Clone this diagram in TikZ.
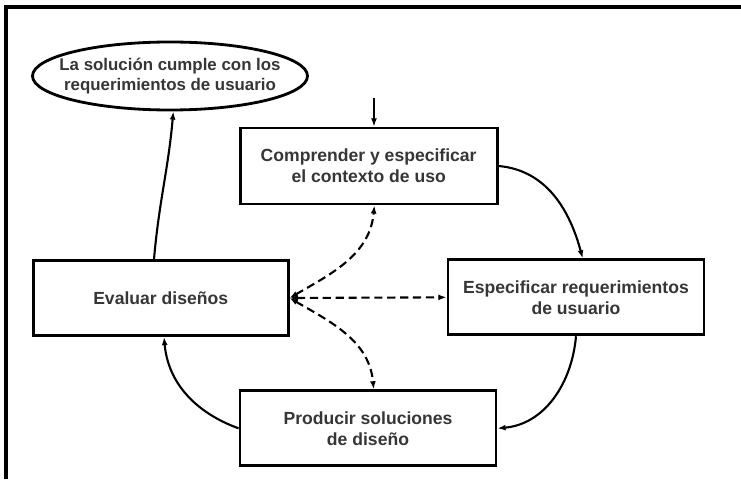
\documentclass[tikz,border=0pt]{standalone}
\usepackage{fontspec}
\setmainfont{Liberation Sans}
\usetikzlibrary{shapes.geometric,arrows.meta}
\definecolor{txt}{HTML}{363636}
\tikzset{
  box/.style={draw,line width=2.4pt,minimum width=7.65cm,minimum height=2.25cm,align=center,
    font=\fontsize{15}{18}\selectfont\bfseries,text=txt},
  flow/.style={line width=1.8pt,-{Latex[length=7pt,width=5pt]}},
  back/.style={line width=1.8pt,dashed,dash pattern=on 7pt off 4pt,{Latex[length=7pt,width=5pt]}-{Latex[length=7pt,width=5pt]}}
}
\begin{document}
\begin{tikzpicture}
      \useasboundingbox (0,0) rectangle (22.23,14.37);
      \fill[white] (0,0) rectangle (22.23,14.37);
      \draw[line width=2.6pt] (0.18,0) |- (22.23,14.16);
      \node[box,ellipse,inner xsep=-3cm,inner ysep=-1cm,minimum width=8.25cm,minimum height=2.04cm,
        font=\fontsize{14.4}{17}\selectfont\bfseries] (sol) at (5.10,12.09) {La solución cumple con los\\requerimientos de usuario};
      \node[box,minimum width=7.71cm,minimum height=2.28cm] (cmp) at (11.06,9.39) {Comprender y especificar\\el contexto de uso};
      \node[box] (eva) at (4.82,5.43) {Evaluar diseños};
      \node[box,minimum width=7.68cm] (req) at (17.28,5.45) {Especificar requerimientos\\de usuario};
      \node[box,minimum width=7.68cm] (prd) at (11.04,1.52) {Producir soluciones\\de diseño};
      \coordinate (start) at (11.22,11.43);
      \draw[flow,line width=1.2pt] (start) -- (start |- cmp.north);
      \draw[flow] ([xshift=-0.2cm]eva.north) to[out=85,in=-95] ([xshift=0.1cm]sol.south);
      \draw[flow] (cmp.east) to[out=-5,in=105] ([xshift=0.2cm]req.north);
      \draw[flow] (req.south) to[out=-95,in=5] (prd.east);
      \draw[flow] (prd.west) to[out=160,in=-85] ([xshift=0.1cm]eva.south);
      \draw[back] (eva.east) to[out=30,in=-95] ([xshift=0.17cm]cmp.south);
      \draw[back] (eva.east) -- (req.west);
      \draw[back] (eva.east) to[out=-30,in=95] ([xshift=0.17cm]prd.north);
\end{tikzpicture}
\end{document}
